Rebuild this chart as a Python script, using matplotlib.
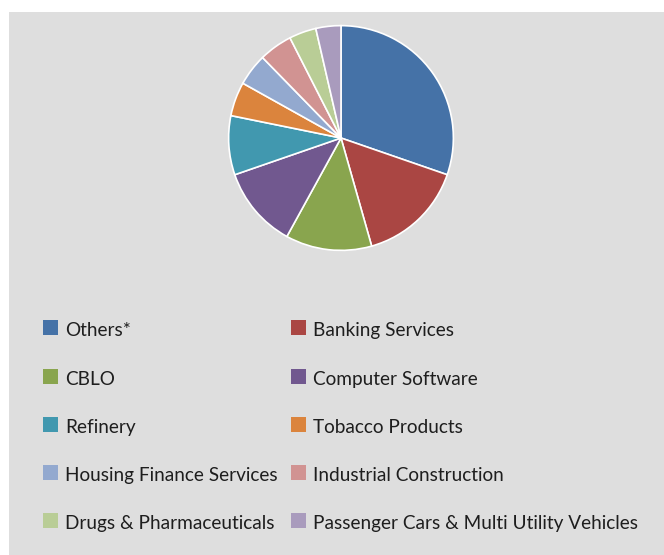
import matplotlib.pyplot as plt
from matplotlib.patches import Rectangle

# sector allocation, percent of portfolio
sectors = [
    'Others*', 'Banking Services', 'CBLO', 'Computer Software', 'Refinery',
    'Tobacco Products', 'Housing Finance Services', 'Industrial Construction',
    'Drugs & Pharmaceuticals', 'Passenger Cars & Multi Utility Vehicles',
]
weights = [30.3, 15.3, 12.4, 11.7, 8.5, 4.9, 4.6, 4.8, 3.9, 3.6]
colors = ['#4572A7', '#AA4643', '#89A54E', '#71588F', '#4198AF',
          '#DB843D', '#93A9CF', '#D19392', '#B9CD96', '#A99BBD']

W, H = 664, 555
fig = plt.figure(figsize=(W / 100, H / 100), dpi=100)
fig.patch.set_facecolor('white')

# grey panel behind everything
fig.patches.append(Rectangle((9 / W, 0), 1 - 9 / W, (H - 12) / H,
                             transform=fig.transFigure, facecolor='#DEDEDE',
                             edgecolor='none', zorder=-10))

# pie
cx, cy, r = 341, 138, 113.5
ax = fig.add_axes([(cx - r) / W, (H - cy - r) / H, 2 * r / W, 2 * r / H])
ax.patch.set_visible(False)
ax.pie(weights, colors=colors, startangle=90, counterclock=False, radius=1,
       wedgeprops=dict(edgecolor='white', linewidth=1.2))
ax.set_xlim(-1.01, 1.01)
ax.set_ylim(-1.01, 1.01)
ax.set_aspect('equal')
ax.set_axis_off()

# legend, two columns
col_x = [43, 291]
row_y = [327.5, 376.5, 424.5, 472.5, 520.5]
sq = 15
for i, (name, c) in enumerate(zip(sectors, colors)):
    x = col_x[i % 2]
    y = row_y[i // 2]
    fig.patches.append(Rectangle((x / W, (H - y - sq / 2) / H), sq / W, sq / H,
                                 transform=fig.transFigure, facecolor=c,
                                 edgecolor='none', zorder=2))
    fig.text((x + 22) / W, (H - y - sq / 2 - 1) / H, name, fontsize=13.7,
             family='Lato', color='#1e1e1e', va='baseline', ha='left')

fig.savefig('out.png', dpi=100)
